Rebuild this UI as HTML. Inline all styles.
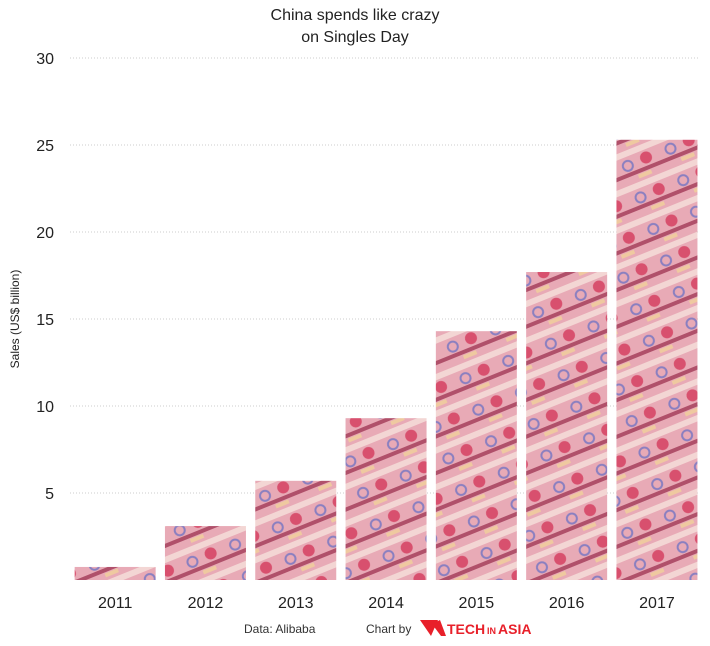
<!DOCTYPE html>
<html><head><meta charset="utf-8"><style>
body{margin:0;background:#fff;font-family:"Liberation Sans",sans-serif}
</style></head><body>
<svg id="chart" width="710" height="641" xmlns="http://www.w3.org/2000/svg">
<defs>
<pattern id="notes" patternUnits="userSpaceOnUse" width="46" height="34" patternTransform="rotate(-22)">
<rect width="46" height="34" fill="#e8aab6"/>
<rect x="0" y="0" width="46" height="6" fill="#f3d6d4"/>
<rect x="0" y="22" width="46" height="4" fill="#b0506a"/>
<circle cx="14" cy="15" r="5" fill="none" stroke="#8a7fc0" stroke-width="2"/>
<circle cx="34" cy="14" r="6" fill="#d8506e"/>
<rect x="20" y="27" width="14" height="4" fill="#efc9a0"/>
</pattern>
</defs>
<g id="grid"></g>
<g id="bars"></g>
<g id="labels"></g>
<text x="355" y="20" text-anchor="middle" font-size="16" fill="#222">China spends like crazy</text>
<text x="355" y="42" text-anchor="middle" font-size="16" fill="#222">on Singles Day</text>
<text transform="translate(19,319) rotate(-90)" text-anchor="middle" font-size="12" fill="#222">Sales (US$ billion)</text>
<text x="244" y="633" font-size="12" fill="#333">Data: Alibaba</text>
<text x="366" y="633" font-size="12" fill="#333">Chart by</text>
<g>
<path d="M420 620 L438 620 L431 636 Z M432 624 L440 620 L446 636 L441 636 Z" fill="#e8202a"/>
<text x="447" y="634" font-size="14" font-weight="bold" fill="#e8202a">TECH</text><text x="487" y="634" font-size="9" font-weight="bold" fill="#e8202a">IN</text><text x="498" y="634" font-size="14" font-weight="bold" fill="#e8202a">ASIA</text>
</g>
</svg>
<script>
const categories=["2011","2012","2013","2014","2015","2016","2017"];
const sales=[0.75,3.1,5.7,9.3,14.3,17.7,25.3];
const yTicks=[5,10,15,20,25,30];
const NS="http://www.w3.org/2000/svg";
const y0=580,pxPerUnit=17.4,x0=70,band=90.3,barW=81;
function y(v){return y0-v*pxPerUnit;}
function x(i){return x0+i*band+(band-barW)/2;}
function mk(t,a){const e=document.createElementNS(NS,t);for(const k in a)e.setAttribute(k,a[k]);return e;}
const grid=document.getElementById('grid'),bars=document.getElementById('bars'),labels=document.getElementById('labels');
yTicks.forEach(t=>{
 const l=mk('line',{x1:70,x2:700,y1:y(t),y2:y(t),stroke:'#ccc','stroke-dasharray':'1,2'});
 
 
 grid.appendChild(l);
 const tx=mk('text',{x:54,y:y(t)+6,'text-anchor':'end','font-size':16,fill:'#222'});
 tx.textContent=t;
 
 
 labels.appendChild(tx);
});
categories.forEach((c,i)=>{
 const r=mk('rect',{x:x(i),y:y(sales[i]),width:barW,height:sales[i]*pxPerUnit,fill:'url(#notes)'});
 
 
 bars.appendChild(r);
 const tx=mk('text',{x:x(i)+barW/2,y:608,'text-anchor':'middle','font-size':16,fill:'#222'});
 tx.textContent=c;
 
 
 labels.appendChild(tx);
});
</script>
</body></html>
